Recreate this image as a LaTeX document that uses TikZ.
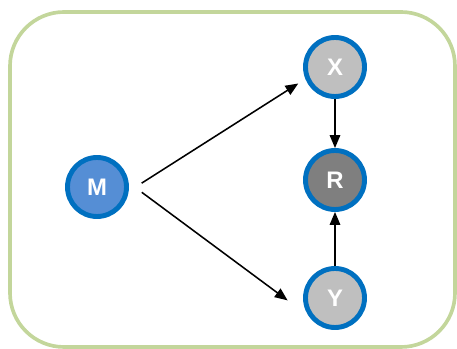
\documentclass[tikz,border=0pt]{standalone}
\usepackage{fontspec}
\setmainfont{Liberation Sans}
\usetikzlibrary{arrows.meta}
\definecolor{frame}{HTML}{C3D69B}
\definecolor{rim}{HTML}{0070C0}
\definecolor{mfill}{HTML}{558ED5}
\definecolor{lgray}{HTML}{BFBFBF}
\definecolor{dgray}{HTML}{7F7F7F}

\begin{document}
\begin{tikzpicture}[
    var/.style={circle,draw=rim,line width=3.5pt,minimum size=1.475cm,inner sep=0pt,
      text=white,font=\fontsize{17}{17}\selectfont\bfseries},
    arr/.style={-{Triangle[length=0.32cm,width=0.26cm]},line width=1.1pt}]
    \useasboundingbox (0,0) rectangle (11.425,8.725);
    \draw[frame,line width=2.6pt,rounded corners=1.35cm] (0.25,0.05) rectangle (11.375,8.425);
    \node[var,fill=mfill] (M) at (2.425,4.05) {M};
    \node[var,fill=lgray] (X) at (8.375,7.05) {X};
    \node[var,fill=dgray] (R) at (8.375,4.225) {R};
    \node[var,fill=lgray] (Y) at (8.375,1.275) {Y};
    \path (M.352) edge[arr,shorten <=0.385cm,shorten >=0.21cm] (X.202)
    (M.8) edge[arr,shorten <=0.41cm,shorten >=0.65cm] (Y.214)
    (X) edge[arr] (R)
    (Y) edge[arr] (R);
  \end{tikzpicture}
\end{document}
